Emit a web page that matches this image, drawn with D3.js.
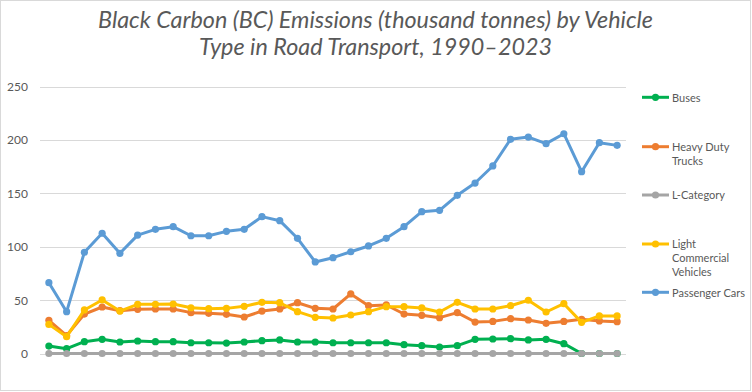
<!DOCTYPE html>
<html><head><meta charset="utf-8">
<script src="https://cdn.jsdelivr.net/npm/d3@7"></script>
<style>html,body{margin:0;padding:0;background:#fff;}svg{display:block;}</style>
</head><body>
<svg id="chart" width="752" height="392"></svg>
<script>
const years = d3.range(1991, 2024).map(String);
const seriesNames = ["Buses", "Heavy Duty Trucks", "L-Category", "Light Commercial Vehicles", "Passenger Cars"];
const seriesColors = ["#00B050", "#ED7D31", "#A5A5A5", "#FFC000", "#5B9BD5"];
const buses = [7,4.5,11.1,13.3,10.8,11.7,11.1,11.1,10.1,10.1,9.8,10.8,12,12.7,10.8,10.8,10.1,10.1,10.1,10.1,8.3,7.3,6.1,7.3,13.3,13.6,13.9,12.7,13.3,9.2,0,0,0];
const heavyDutyTrucks = [31.1,16.8,37,43.6,40.1,41.4,41.7,41.7,38.3,37.7,36.7,34.2,39.8,41.7,47.6,42.3,41.7,55.8,44.8,45.5,37,35.8,33.6,38.3,29.5,30.1,32.6,31.4,28.3,30.1,32,30.5,29.8];
const lCategory = new Array(33).fill(0);
const lightCommercial = [27.3,15.8,40.8,50.2,39.8,46.1,46.1,46.4,42.9,42,42.3,44.2,48,47.6,39.2,33.9,33.3,36.1,39.2,43.9,43.9,42.7,38.9,48,41.7,41.7,44.8,49.9,38.9,46.7,29.2,35.2,35.2];
const passengerCars = [66.4,39.2,94.9,112.7,93.9,111,116.4,118.9,110.4,110.4,114.5,116.4,128.3,124.5,108,85.8,89.8,95.4,100.8,108,118.9,132.9,134.2,148.3,159.8,175.8,200.8,202.9,196.7,206,170.4,197.6,195.1];
const yTicks = [0,50,100,150,200,250];
const titleLines = ["Black Carbon (BC) Emissions (thousand tonnes) by Vehicle", "Type in Road Transport, 1990\u20132023"];
const legendLabels = [["Buses"],["Heavy Duty","Trucks"],["L-Category"],["Light","Commercial","Vehicles"],["Passenger Cars"]];

const allSeries = [buses, heavyDutyTrucks, lCategory, lightCommercial, passengerCars];
const svg = d3.select("#chart");
const font = "Lato, 'Open Sans', sans-serif";
const textColor = "#595959";

svg.append("rect").attr("x",0.5).attr("y",0.5).attr("width",750).attr("height",390)
  .attr("fill","#fff").attr("stroke","#D9D9D9").attr("stroke-width",1);

const x = d3.scaleBand().domain(years).range([40, 626]);
const y = d3.scaleLinear().domain([0, 250]).range([353.5, 86.8]);

// gridlines
svg.append("g").selectAll("line").data(yTicks).join("line")
  .attr("x1", 40).attr("x2", 626)
  .attr("y1", d => Math.round(y(d)) + 0.5).attr("y2", d => Math.round(y(d)) + 0.5)
  .attr("stroke", "#D9D9D9").attr("stroke-width", 1);

// y axis labels
const yAxis = d3.axisLeft(y).tickValues(yTicks).tickSize(0).tickPadding(0);
const ga = svg.append("g").attr("transform", "translate(28,0)").call(yAxis);
ga.select(".domain").remove();
ga.selectAll("text").attr("fill", textColor).style("font-family", font).style("font-size", "12px");

// title
const title = svg.append("g");
titleLines.forEach((t, i) => {
  title.append("text").attr("x", 375.5).attr("y", i === 0 ? 28 : 55)
    .attr("text-anchor", "middle").attr("fill", textColor)
    .style("font-family", font).style("font-style", "italic").style("font-size", "21px")
    .text(t);
});
const t0 = title.select("text").node();
const fs = 21 * 555 / t0.getComputedTextLength();
title.selectAll("text").style("font-size", fs + "px");

// lines
const line = d3.line().x((d, i) => x(years[i]) + x.bandwidth() / 2).y(d => y(d));
allSeries.forEach((s, k) => {
  const g = svg.append("g");
  g.append("path").datum(s).attr("d", line).attr("fill", "none")
    .attr("stroke", seriesColors[k]).attr("stroke-width", 3).attr("stroke-linejoin", "round");
  g.selectAll("circle").data(s).join("circle")
    .attr("cx", (d, i) => x(years[i]) + x.bandwidth() / 2).attr("cy", d => y(d))
    .attr("r", 3.6).attr("fill", seriesColors[k]);
});

// legend
const legendY = [97.3, 146.7, 195, 244, 292.3];
const legendTexts = [];
seriesNames.forEach((n, k) => {
  const g = svg.append("g");
  g.append("line").attr("x1", 642).attr("x2", 669).attr("y1", legendY[k]).attr("y2", legendY[k])
    .attr("stroke", seriesColors[k]).attr("stroke-width", 3);
  g.append("circle").attr("cx", 655.5).attr("cy", legendY[k]).attr("r", 3.6).attr("fill", seriesColors[k]);
  legendLabels[k].forEach((l, j) => {
    legendTexts.push(g.append("text").attr("x", 672).attr("y", legendY[k] + 4.3 + j * 14)
      .attr("fill", textColor).style("font-family", font).style("font-size", "12px").text(l));
  });
});
const pc = legendTexts[legendTexts.length - 1].node();
const lfs = Math.min(12, 12 * 73 / pc.getComputedTextLength());
legendTexts.forEach(t => t.style("font-size", lfs + "px"));
</script>
</body></html>
